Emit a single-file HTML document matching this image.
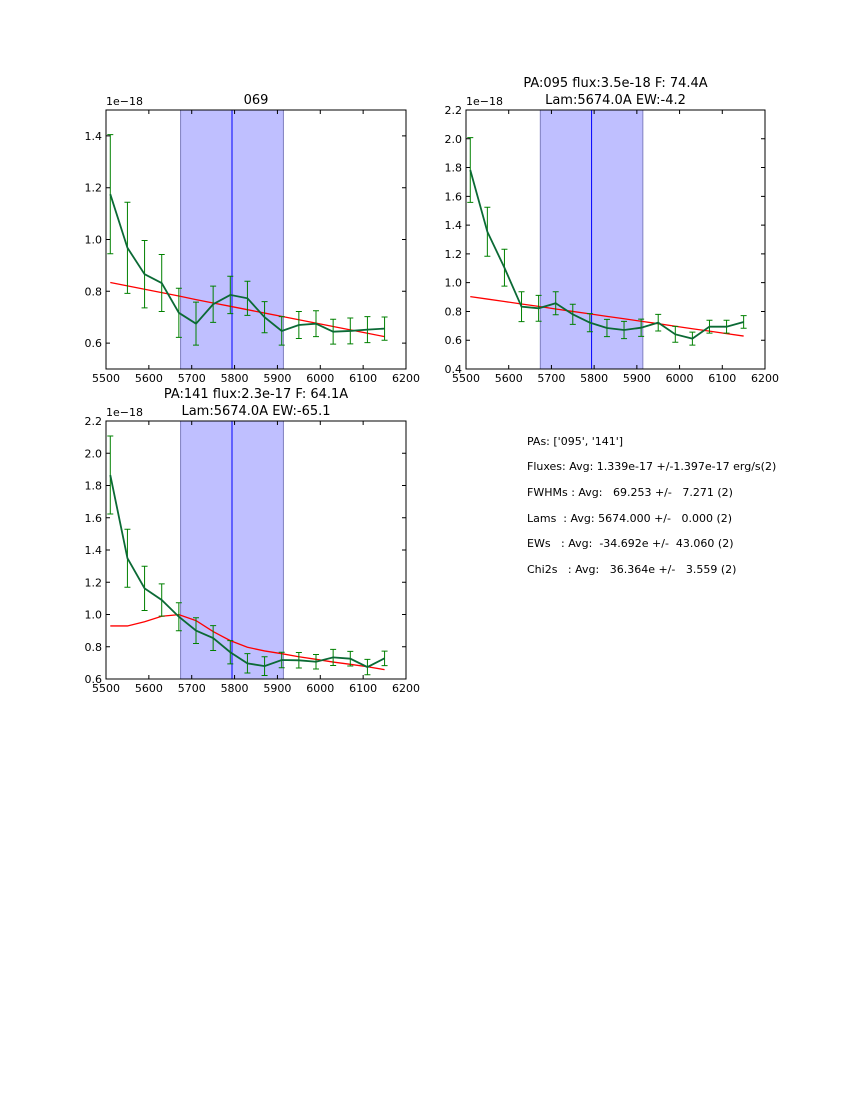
<!DOCTYPE html>
<html><head><meta charset="utf-8">
<style>
body{margin:0;background:#fff;width:850px;height:1100px;overflow:hidden}
svg{position:absolute;left:0;top:0;font-family:"DejaVu Sans","Liberation Sans",sans-serif}
</style></head>
<body>
<svg id="fig" width="850" height="1100">
<g font-size="11" fill="#000">
<text x="527" y="445" style="white-space:pre">PAs: ['095', '141']</text>
<text x="527" y="470" style="white-space:pre">Fluxes: Avg: 1.339e-17 +/-1.397e-17 erg/s(2)</text>
<text x="527" y="496" style="white-space:pre">FWHMs : Avg:   69.253 +/-   7.271 (2)</text>
<text x="527" y="522" style="white-space:pre">Lams  : Avg: 5674.000 +/-   0.000 (2)</text>
<text x="527" y="547" style="white-space:pre">EWs   : Avg:  -34.692e +/-  43.060 (2)</text>
<text x="527" y="573" style="white-space:pre">Chi2s   : Avg:   36.364e +/-   3.559 (2)</text>
</g>
</svg>
<script>
const wl=[5510,5550,5590,5630,5670,5710,5750,5790,5830,5870,5910,5950,5990,6030,6070,6110,6150];
const xTicks=[5500,5600,5700,5800,5900,6000,6100,6200];
const shadeRange=[5674,5914];
const lineCenter=5794;
const flux1=[1.175,0.968,0.866,0.832,0.717,0.675,0.75,0.786,0.773,0.70,0.647,0.67,0.675,0.644,0.647,0.652,0.656];
const err1=[0.23,0.176,0.13,0.11,0.095,0.083,0.07,0.072,0.066,0.06,0.055,0.052,0.05,0.048,0.05,0.05,0.045];
const fit1=[0.834,0.821,0.808,0.795,0.782,0.768,0.755,0.742,0.729,0.716,0.703,0.690,0.677,0.664,0.651,0.638,0.625];
const yTicks1=[0.6,0.8,1.0,1.2,1.4];
const flux2=[1.783,1.354,1.104,0.833,0.822,0.857,0.78,0.722,0.685,0.671,0.687,0.722,0.641,0.611,0.694,0.694,0.727];
const err2=[0.225,0.17,0.128,0.104,0.09,0.08,0.07,0.063,0.06,0.06,0.06,0.058,0.055,0.045,0.045,0.045,0.044];
const fit2=[0.903,0.886,0.869,0.852,0.835,0.817,0.800,0.783,0.766,0.749,0.732,0.715,0.697,0.680,0.663,0.646,0.629];
const yTicks2=[0.4,0.6,0.8,1.0,1.2,1.4,1.6,1.8,2.0,2.2];
const flux3=[1.865,1.349,1.162,1.09,0.986,0.90,0.854,0.766,0.697,0.68,0.718,0.716,0.707,0.734,0.726,0.674,0.728];
const err3=[0.242,0.18,0.137,0.10,0.087,0.08,0.077,0.072,0.06,0.058,0.048,0.048,0.045,0.05,0.045,0.048,0.045];
const fit3=[0.929,0.929,0.955,0.989,0.999,0.962,0.894,0.838,0.797,0.774,0.757,0.738,0.722,0.705,0.691,0.676,0.658];
const yTicks3=[0.6,0.8,1.0,1.2,1.4,1.6,1.8,2.0,2.2];

const NS="http://www.w3.org/2000/svg";
const fig=document.getElementById('fig');
function mk(tag,attrs,parent){const e=document.createElementNS(NS,tag);for(const k in attrs)e.setAttribute(k,attrs[k]);parent.appendChild(e);return e;}

function panel(name,L,T,R,B,ymin,ymax,yTicks,flux,err,fit,titles){
  const g=mk('g',{},fig);
  
  
  const sx=v=>L+(v-5500)/(6200-5500)*(R-L);
  const sy=v=>B-(v-ymin)/(ymax-ymin)*(B-T);
  const sh=mk('rect',{x:sx(shadeRange[0]),y:T,width:sx(shadeRange[1])-sx(shadeRange[0]),height:B-T,fill:'#bfbfff',stroke:'#8080c0','stroke-width':1},g);
  
  
  const vl=mk('line',{x1:sx(lineCenter),x2:sx(lineCenter),y1:T,y2:B,stroke:'#0000ff','stroke-width':1},g);
  
  
  // fit line
  const fp=mk('polyline',{points:wl.map((w,i)=>sx(w)+','+sy(fit[i])).join(' '),fill:'none',stroke:'#ff0000','stroke-width':1.3},g);
  
  
  // errorbars
  wl.forEach((w,i)=>{
    const x=sx(w),y1=sy(flux[i]+err[i]),y2=sy(flux[i]-err[i]);
    const eb=mk('path',{d:`M${x},${y1}V${y2}M${x-3},${y1}H${x+3}M${x-3},${y2}H${x+3}`,stroke:'#008000','stroke-width':1,fill:'none'},g);
    
    
  });
  const dp=mk('polyline',{points:wl.map((w,i)=>sx(w)+','+sy(flux[i])).join(' '),fill:'none',stroke:'#0b6a35','stroke-width':1.8},g);
  
  
  const fr=mk('rect',{x:L,y:T,width:R-L,height:B-T,fill:'none',stroke:'#000','stroke-width':1},g);
  
  
  xTicks.forEach(t=>{
    const x=sx(t);
    mk('path',{d:`M${x},${B}v-4M${x},${T}v4`,stroke:'#000','stroke-width':1},g);
    const tx=mk('text',{x:x,y:B+13,'font-size':11,'text-anchor':'middle'},g);
    tx.textContent=t;
    
    
  });
  yTicks.forEach(t=>{
    const y=sy(t);
    mk('path',{d:`M${L},${y}h4M${R},${y}h-4`,stroke:'#000','stroke-width':1},g);
    const tx=mk('text',{x:L-4,y:y+4,'font-size':11,'text-anchor':'end'},g);
    tx.textContent=t.toFixed(1);
    
    
  });
  const off=mk('text',{x:L,y:T-5,'font-size':11},g);
  off.textContent='1e\u221218';
  
  
  titles.forEach((s,i)=>{
    const tt=mk('text',{x:(L+R)/2,y:T-6-(titles.length-1-i)*17,'font-size':13,'text-anchor':'middle'},g);
    tt.textContent=s;
    
    
  });
}
panel('panel-069',106,110,406,369,0.5,1.5,yTicks1,flux1,err1,fit1,['069']);
panel('panel-pa095',466,110,765,369,0.4,2.2,yTicks2,flux2,err2,fit2,['PA:095 flux:3.5e-18 F: 74.4A','Lam:5674.0A EW:-4.2']);
panel('panel-pa141',106,421,406,679,0.6,2.2,yTicks3,flux3,err3,fit3,['PA:141 flux:2.3e-17 F: 64.1A','Lam:5674.0A EW:-65.1']);
</script>
</body></html>
